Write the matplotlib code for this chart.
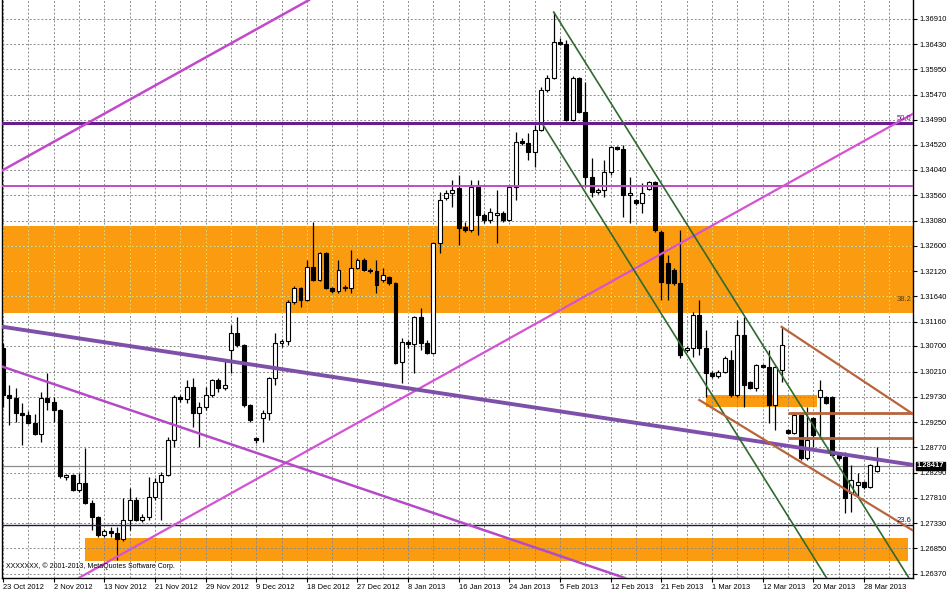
import matplotlib
matplotlib.use("Agg")
import matplotlib.pyplot as plt
import matplotlib.transforms as mtransforms

plt.rcParams['font.family'] = ['Liberation Sans', 'DejaVu Sans']

# ---- EURUSD daily bars (bar index = position on chart) ----
opens = [1.3066, 1.2977, 1.2971, 1.2942, 1.2939, 1.2923, 1.2902, 1.2971, 1.2963, 1.2948,
         1.2821, 1.2825, 1.2796, 1.2809, 1.2771, 1.2745, 1.2711, 1.2718, 1.2714, 1.2703,
         1.2739, 1.2777, 1.2739, 1.2745, 1.2783, 1.2811, 1.2825, 1.2891, 1.2973, 1.2969,
         1.2992, 1.2942, 1.2954, 1.2977, 1.3005, 1.2990, 1.3062, 1.3094, 1.3072, 1.2958,
         1.2895, 1.2933, 1.2942, 1.3009, 1.3075, 1.3079, 1.3153, 1.3180, 1.3157, 1.3220,
         1.3195, 1.3246, 1.3180, 1.3174, 1.3182, 1.3180, 1.3218, 1.3233, 1.3214, 1.3212,
         1.3195, 1.3201, 1.3189, 1.3039, 1.3077, 1.3073, 1.3125, 1.3075, 1.3056, 1.3265,
         1.3351, 1.3360, 1.3370, 1.3296, 1.3290, 1.3372, 1.3319, 1.3309, 1.3319, 1.3322,
         1.3309, 1.3372, 1.3459, 1.3455, 1.3438, 1.3480, 1.3556, 1.3579, 1.3647, 1.3643,
         1.3499, 1.3579, 1.3514, 1.3391, 1.3362, 1.3366, 1.3400, 1.3448, 1.3444, 1.3357,
         1.3347, 1.3341, 1.3368, 1.3381, 1.3286, 1.3227, 1.3214, 1.3189, 1.3062, 1.3066,
         1.3129, 1.3066, 1.3018, 1.3013, 1.3020, 1.3043, 1.2977, 1.3090, 1.3001, 1.2990,
         1.3034, 1.3030, 1.2958, 1.3024, 1.2910, 1.2904, 1.2939, 1.2857, 1.2933, 1.2973,
         1.2973, 1.2973, 1.2863, 1.2859, 1.2790, 1.2806, 1.2811, 1.2802, 1.2832]
highs = [1.3075, 1.2996, 1.2990, 1.2961, 1.2946, 1.2941, 1.2982, 1.3018, 1.2973, 1.2950,
         1.2826, 1.2827, 1.2828, 1.2876, 1.2777, 1.2746, 1.2722, 1.2726, 1.2726, 1.2781,
         1.2800, 1.2783, 1.2750, 1.2821, 1.2819, 1.2830, 1.2897, 1.2977, 1.2977, 1.3005,
         1.3009, 1.2963, 1.2992, 1.3007, 1.3009, 1.3043, 1.3110, 1.3125, 1.3074, 1.2960,
         1.2897, 1.2948, 1.3011, 1.3094, 1.3083, 1.3157, 1.3184, 1.3182, 1.3233, 1.3305,
         1.3248, 1.3248, 1.3182, 1.3233, 1.3186, 1.3252, 1.3237, 1.3237, 1.3218, 1.3233,
         1.3218, 1.3203, 1.3191, 1.3085, 1.3081, 1.3127, 1.3142, 1.3081, 1.3267, 1.3362,
         1.3366, 1.3385, 1.3395, 1.3305, 1.3385, 1.3385, 1.3322, 1.3332, 1.3366, 1.3326,
         1.3376, 1.3476, 1.3465, 1.3474, 1.3490, 1.3562, 1.3584, 1.3704, 1.3655, 1.3651,
         1.3583, 1.3581, 1.3571, 1.3427, 1.3370, 1.3423, 1.3450, 1.3450, 1.3452, 1.3391,
         1.3349, 1.3379, 1.3383, 1.3383, 1.3290, 1.3242, 1.3218, 1.3290, 1.3070, 1.3134,
         1.3157, 1.3100, 1.3022, 1.3024, 1.3051, 1.3062, 1.3119, 1.3125, 1.3003, 1.3036,
         1.3036, 1.3062, 1.3032, 1.3106, 1.2912, 1.2942, 1.2941, 1.2954, 1.2935, 1.3005,
         1.2975, 1.2975, 1.2866, 1.2868, 1.2844, 1.2828, 1.2813, 1.2846, 1.2878]
lows = [1.2954, 1.2920, 1.2925, 1.2882, 1.2921, 1.2901, 1.2887, 1.2948, 1.2925, 1.2819,
        1.2815, 1.2795, 1.2792, 1.2770, 1.2720, 1.2707, 1.2707, 1.2707, 1.2663, 1.2699,
        1.2720, 1.2737, 1.2735, 1.2739, 1.2777, 1.2739, 1.2823, 1.2878, 1.2963, 1.2961,
        1.2916, 1.2878, 1.2948, 1.2973, 1.2982, 1.2986, 1.3018, 1.3068, 1.2954, 1.2925,
        1.2885, 1.2887, 1.2929, 1.2996, 1.3068, 1.3072, 1.3150, 1.3144, 1.3155, 1.3193,
        1.3193, 1.3178, 1.3170, 1.3170, 1.3174, 1.3170, 1.3216, 1.3212, 1.3208, 1.3170,
        1.3191, 1.3185, 1.3035, 1.2999, 1.3066, 1.3018, 1.3062, 1.3054, 1.3054, 1.3246,
        1.3347, 1.3334, 1.3262, 1.3286, 1.3286, 1.3281, 1.3303, 1.3303, 1.3265, 1.3305,
        1.3307, 1.3347, 1.3452, 1.3423, 1.3410, 1.3478, 1.3553, 1.3576, 1.3641, 1.3497,
        1.3497, 1.3512, 1.3372, 1.3353, 1.3358, 1.3353, 1.3395, 1.3442, 1.3315, 1.3303,
        1.3338, 1.3322, 1.3366, 1.3286, 1.3157, 1.3157, 1.3185, 1.3047, 1.3058, 1.3049,
        1.3052, 1.2973, 1.3009, 1.3009, 1.3018, 1.2973, 1.2973, 1.2954, 1.2988, 1.2984,
        1.3028, 1.2924, 1.2910, 1.3001, 1.2903, 1.2902, 1.2853, 1.2853, 1.2878, 1.2897,
        1.2959, 1.2861, 1.2853, 1.2752, 1.2754, 1.2783, 1.2798, 1.2800, 1.2830]
closes = [1.2977, 1.2971, 1.2942, 1.2939, 1.2923, 1.2902, 1.2971, 1.2963, 1.2948, 1.2823,
          1.2825, 1.2796, 1.2809, 1.2771, 1.2745, 1.2711, 1.2718, 1.2714, 1.2703, 1.2739,
          1.2777, 1.2739, 1.2745, 1.2783, 1.2811, 1.2825, 1.2891, 1.2973, 1.2969, 1.2992,
          1.2942, 1.2954, 1.2977, 1.3005, 1.2990, 1.2996, 1.3094, 1.3072, 1.2958, 1.2929,
          1.2891, 1.2942, 1.3009, 1.3075, 1.3079, 1.3153, 1.3180, 1.3157, 1.3220, 1.3195,
          1.3246, 1.3180, 1.3174, 1.3214, 1.3180, 1.3218, 1.3233, 1.3214, 1.3212, 1.3185,
          1.3205, 1.3189, 1.3037, 1.3077, 1.3073, 1.3125, 1.3075, 1.3056, 1.3265, 1.3347,
          1.3360, 1.3366, 1.3294, 1.3290, 1.3372, 1.3319, 1.3309, 1.3324, 1.3322, 1.3309,
          1.3372, 1.3457, 1.3455, 1.3438, 1.3480, 1.3556, 1.3579, 1.3647, 1.3643, 1.3499,
          1.3579, 1.3514, 1.3391, 1.3362, 1.3366, 1.3400, 1.3448, 1.3444, 1.3357, 1.3360,
          1.3341, 1.3360, 1.3381, 1.3290, 1.3191, 1.3189, 1.3189, 1.3052, 1.3066, 1.3129,
          1.3066, 1.3018, 1.3013, 1.3020, 1.3047, 1.2977, 1.3090, 1.2996, 1.2990, 1.3034,
          1.3030, 1.2958, 1.3030, 1.3072, 1.2904, 1.2939, 1.2857, 1.2891, 1.2901, 1.2986,
          1.2961, 1.2863, 1.2857, 1.2781, 1.2815, 1.2811, 1.2802, 1.2844, 1.2842]

date_labels = ["23 Oct 2012", "2 Nov 2012", "13 Nov 2012", "21 Nov 2012", "29 Nov 2012",
               "9 Dec 2012", "18 Dec 2012", "27 Dec 2012", "8 Jan 2013", "16 Jan 2013",
               "24 Jan 2013", "5 Feb 2013", "12 Feb 2013", "21 Feb 2013", "1 Mar 2013",
               "12 Mar 2013", "20 Mar 2013", "28 Mar 2013"]
price_labels = ["1.26370", "1.26850", "1.27330", "1.27810", "1.28290", "1.28770",
                "1.29250", "1.29730", "1.30210", "1.30700", "1.31160", "1.31640",
                "1.32120", "1.32600", "1.33080", "1.33560", "1.34040", "1.34520",
                "1.34990", "1.35470", "1.35950", "1.36430", "1.36910"]
last_price = 1.28417

# ---- drawn objects: (bar index, price) anchors ----
line_up_top = [(0, 1.3404), (47, 1.3718)]
line_up_low = [(12, 1.2629), (113, 1.3305)]
line_down_purple = [(0, 1.3106), (143.6, 1.2844)]
line_down_magenta = [(0, 1.3030), (96, 1.2638)]
green_upper = [(87, 1.3704), (142.8, 1.2635)]
green_lower = [(85.3, 1.3490), (129.9, 1.2633)]
brown_upper = [(123, 1.3106), (143.3, 1.2944)]
brown_lower = [(110, 1.2967), (142.8, 1.2726)]
brown_levels = [1.2942, 1.2895]
brown_start = 124
zone_main = (1.3132, 1.3298)
zone_low = (13, 143, 1.2661, 1.2705)
zone_small = (111, 128.6, 1.2954, 1.2977)
fib_levels = {"50.0": 1.3493, "38.2": 1.3149, "23.6": 1.2730}
magenta_level = 1.3374

ORANGE = '#FB9B0F'

fig = plt.figure(figsize=(9.48, 5.93), dpi=100)
ax = fig.add_axes([2 / 948, 15 / 593, 911 / 948, 578 / 593])
ax.set_xlim(-0.16, 143.76)
ax.set_ylim(1.26288, 1.3727)
ax.set_axisbelow(True)

# zones
ax.axhspan(zone_main[0], zone_main[1], color=ORANGE, lw=0, zorder=0.2)
ax.fill_between([zone_low[0], zone_low[1]], zone_low[2], zone_low[3], color=ORANGE, lw=0, zorder=0.2)
ax.fill_between([zone_small[0], zone_small[1]], zone_small[2], zone_small[3], color=ORANGE, lw=0, zorder=0.2)

# grid
ticks = [float(s) for s in price_labels]
ax.set_yticks(ticks)
ax.set_yticklabels(price_labels)
ax.set_xticks(range(0, 144, 8))
ax.set_xticklabels(date_labels, ha='left')
ax.set_xticks(range(4, 144, 8), minor=True)
ax.grid(True, which='both', color='#8a8a8a', linestyle=(0, (2, 2)), lw=0.7)
# grid looks yellow where it crosses the orange band
for gx in range(0, 144, 4):
    ax.vlines(gx, zone_main[0], zone_main[1], color='#FFD84A', linestyle=(0, (2, 2)), lw=0.7, zorder=0.6)
for t in ticks:
    if zone_main[0] < t < zone_main[1]:
        ax.hlines(t, -1, 145, color='#FFD84A', linestyle=(0, (2, 2)), lw=0.7, zorder=0.6)

# candles
idx = list(range(len(opens)))
bottoms = [min(o, c) for o, c in zip(opens, closes)]
heights = [max(abs(c - o), 0.00007) for o, c in zip(opens, closes)]
colors = ['white' if c >= o else 'black' for o, c in zip(opens, closes)]
ax.vlines(idx, lows, highs, color='black', lw=0.9, zorder=3)
ax.bar(idx, heights, bottom=bottoms, width=0.62, color=colors, edgecolor='black', lw=0.8, zorder=4)

# horizontal levels
ax.axhline(fib_levels["50.0"], color='#6A1E8E', lw=2.2, zorder=5)
ax.axhline(fib_levels["23.6"], color='#1E1E3C', lw=1.0, zorder=5)
ax.axhline(magenta_level, color='#BE4CC4', lw=1.4, zorder=5)
ax.axhline(last_price, color='#8C8C8C', lw=0.9, zorder=2.5)
for lvl in brown_levels:
    ax.hlines(lvl, brown_start, 150, color='#B8643C', lw=2.0, zorder=5)

# trend lines
ax.axline(*line_up_top, color='#C248CC', lw=1.8, zorder=5)
ax.axline(*line_up_low, color='#D552D2', lw=1.6, zorder=5)
ax.axline(*line_down_purple, color='#7E50AA', lw=2.8, zorder=5)
ax.axline(*line_down_magenta, color='#B44AC6', lw=1.8, zorder=5)


def ray(pts, **kw):
    (x1, y1), (x2, y2) = pts
    k = (y2 - y1) / (x2 - x1)
    ax.plot([x1, 150], [y1, y1 + k * (150 - x1)], **kw)


ray(green_upper, color='#2F6A2F', lw=1.2, zorder=5)
ray(green_lower, color='#2F6A2F', lw=1.2, zorder=5)
ray(brown_upper, color='#B8643C', lw=1.6, zorder=5)
ray(brown_lower, color='#B8643C', lw=1.6, zorder=5)

# fib labels
ax.text(143.5, fib_levels["50.0"] + 0.0002, "50.0", ha='right', va='bottom', fontsize=5.5, color='#6A1E8E', zorder=6)
ax.text(143.5, fib_levels["38.2"] + 0.0002, "38.2", ha='right', va='bottom', fontsize=5.5, color='#5a3a10', zorder=6)
ax.text(143.5, fib_levels["23.6"] + 0.0002, "23.6", ha='right', va='bottom', fontsize=5.5, color='#1E1E3C', zorder=6)

ax.text(0.004, 0.017, "XXXXXXX, \u00a9 2001-2013, MetaQuotes Software Corp.", transform=ax.transAxes,
        fontsize=5, color='black', zorder=6)

# axes styling (MT4 look)
ax.yaxis.tick_right()
ax.tick_params(axis='y', which='major', labelsize=5.4, length=3, width=0.8, pad=1.5, colors='black')
ax.tick_params(axis='x', which='major', labelsize=5.4, length=3, width=0.8, pad=1.5)
ax.tick_params(axis='x', which='minor', length=0)
for s in ['left', 'right', 'bottom']:
    ax.spines[s].set_color('black')
    ax.spines[s].set_linewidth(1.0)
ax.spines['top'].set_visible(False)

trans = mtransforms.blended_transform_factory(ax.transAxes, ax.transData)
ax.text(1.004, last_price, f"{last_price:.5f}", transform=trans, ha='left', va='center', fontsize=5.4,
        color='white', fontweight='bold', clip_on=False, zorder=10,
        bbox=dict(boxstyle='square,pad=0.1', fc='black', ec='black'))

fig.savefig("out.png", dpi=100, facecolor='white')
